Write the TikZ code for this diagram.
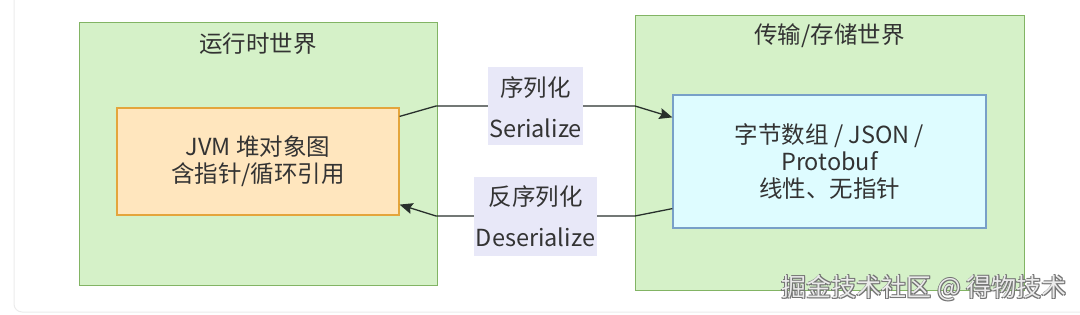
\documentclass[tikz,border=0pt]{standalone}
\usepackage{fontspec}
\setmainfont{Noto Sans CJK SC}
\usetikzlibrary{arrows.meta,calc}
\definecolor{grnfill}{RGB}{213,241,200}
\definecolor{grnline}{RGB}{130,180,100}
\definecolor{orgfill}{RGB}{255,230,190}
\definecolor{orgline}{RGB}{228,165,60}
\definecolor{blufill}{RGB}{222,252,255}
\definecolor{bluline}{RGB}{120,160,200}
\definecolor{labfill}{RGB}{232,232,248}
\definecolor{txt}{RGB}{51,51,51}
\definecolor{edgec}{RGB}{40,48,44}
\tikzset{
  cluster/.style={draw=grnline, fill=grnfill, line width=1pt, inner sep=0pt},
  orgbox/.style={draw=orgline, fill=orgfill, line width=1.2pt, inner sep=0pt, align=center, text=txt, font=\fontsize{23.5}{27}\selectfont},
  blubox/.style={draw=bluline, fill=blufill, line width=1.2pt, inner sep=0pt, align=center, text=txt, font=\fontsize{23.5}{27}\selectfont},
  labbox/.style={fill=labfill, inner sep=0pt},
  ttl/.style={text=txt, font=\fontsize{23.5}{25}\selectfont, inner sep=0pt},
  ltxt/.style={text=txt, font=\fontsize{23.5}{25}\selectfont, inner sep=0pt},
  wmk/.style={font=\fontsize{25}{28}\selectfont, inner sep=0pt},
  conn/.style={draw=edgec, line width=1.3pt, -{Stealth[length=13pt,width=11pt,inset=2pt]}}
}
\begin{document}
\begin{tikzpicture}[x=1pt,y=-1pt]
\useasboundingbox (0,0) rectangle (1080,314);
% outer card
\draw[draw=black!8, line width=1pt, rounded corners=8pt] (14,-20) rectangle (1100,312);
% clusters
\node[cluster, minimum width=358pt, minimum height=263pt] (leftc) at (258,153.5) {};
\node[cluster, minimum width=389pt, minimum height=275pt] (rightc) at (829.5,152.5) {};
\node[ttl] (lt) at (258,44) {运行时世界};
\node[ttl] (rt) at (829.5,36) {传输/存储世界};
% inner boxes
\node[orgbox, minimum width=282pt, minimum height=107pt] (org) at (258,161.5) {JVM 堆对象图\\含指针/循环引用};
\node[blubox, minimum width=313pt, minimum height=133pt] (blu) at (829.5,161.5) {字节数组 / JSON /\\Protobuf\\线性、无指针};
% connectors
\coordinate (a1) at (436,106);
\coordinate (a2) at (635,106);
\coordinate (b1) at (635,216);
\coordinate (b2) at (436,216);
\draw[conn] ([yshift=-9pt]org.north east) -- (a1) -- (a2) -- ([yshift=-23pt]blu.north west);
\draw[conn] ([yshift=20pt]blu.south west) -- (b1) -- (b2) -- ([yshift=11pt]org.south east);
% edge labels
\node[labbox, minimum width=95pt, minimum height=78pt] (lab1) at (535.5,106) {};
\node[ltxt] (l1a) at (535.5,88) {序列化};
\node[ltxt] (l1b) at (535.5,128) {Serialize};
\node[labbox, minimum width=123pt, minimum height=79pt] (lab2) at (535.5,216.5) {};
\node[ltxt] (l2a) at (535.5,197) {反序列化};
\node[ltxt] (l2b) at (535.5,237) {Deserialize};
% watermark
\foreach \dx/\dy [count=\i] in {1/1,-0.6/0.6,0.6/-0.6,1.2/0}{
  \node[wmk, text=black!55] (wms\i) at ([xshift=\dx pt,yshift=-\dy pt]924,288) {掘金技术社区 @ 得物技术};
}
\node[wmk, text=black!8] (wm) at (924,288) {掘金技术社区 @ 得物技术};
\end{tikzpicture}
\end{document}
